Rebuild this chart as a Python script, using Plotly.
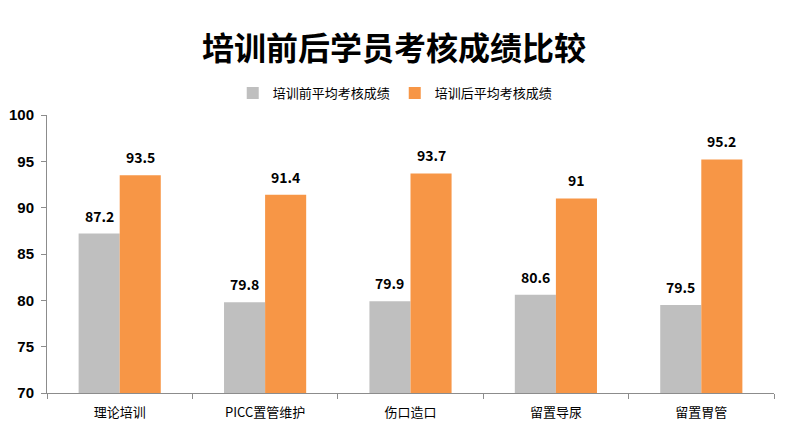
import plotly.graph_objects as go

categories = ["理论培训", "PICC置管维护", "伤口造口", "留置导尿", "留置胃管"]
before = [87.2, 79.8, 79.9, 80.6, 79.5]
after = [93.5, 91.4, 93.7, 91, 95.2]
series_names = ["培训前平均考核成绩", "培训后平均考核成绩"]

font_family = "Noto Sans CJK SC, Noto Sans, sans-serif"
axis_color = "#8c8c8c"

W, H = 788, 435
ML, MR, MT, MB = 47, 14, 115, 42
BARGAP = 0.435
cat_w = (W - ML - MR) / len(categories)
bar_w = cat_w * (1 - BARGAP) / 2

fig = go.Figure()
fig.add_trace(go.Bar(
    x=categories, y=before, name=series_names[0],
    marker=dict(color="#BFBFBF", line=dict(width=0)),
))
fig.add_trace(go.Bar(
    x=categories, y=after, name=series_names[1],
    marker=dict(color="#F79646", line=dict(width=0)),
))

label_font = dict(family=font_family, size=14, color="#000000", weight="bold")
for vals, sign in ((before, -1), (after, 1)):
    for c, v in zip(categories, vals):
        fig.add_annotation(x=c, y=v, text=f"{v:g}", showarrow=False,
                           xshift=sign * bar_w / 2, yanchor="bottom", yshift=6,
                           font=label_font)

fig.update_layout(
    width=W, height=H,
    margin=dict(l=ML, r=MR, t=MT, b=MB, autoexpand=False),
    paper_bgcolor="white", plot_bgcolor="white",
    barmode="group", bargap=BARGAP, bargroupgap=0,
    title=dict(text="<b>培训前后学员考核成绩比较</b>", x=0.5, xanchor="center",
               y=0.888, yanchor="middle",
               font=dict(family=font_family, size=32, color="#000000")),
    legend=dict(orientation="h", x=0.479, xanchor="center", y=1.079, yanchor="middle",
                font=dict(family=font_family, size=13, color="#000000"),
                itemwidth=30, traceorder="normal"),
    showlegend=True,
    font=dict(family=font_family),
)
fig.update_xaxes(
    type="category", showline=True, linecolor=axis_color, linewidth=1,
    ticks="outside", tickson="boundaries", ticklen=5, tickcolor=axis_color,
    tickfont=dict(family=font_family, size=13, color="#000000"),
    showgrid=False, automargin=False, ticklabelstandoff=7,
)
fig.update_yaxes(
    range=[70, 100], dtick=5, showline=True, linecolor=axis_color, linewidth=1,
    ticks="outside", ticklen=5, tickcolor=axis_color,
    tickfont=dict(family="Liberation Sans, Arial, sans-serif", size=15, color="#000000", weight="bold"),
    showgrid=False, zeroline=False, automargin=False, ticklabelstandoff=4,
)

fig.write_html("out.html", config={"displayModeBar": False},
               post_script="document.body.style.margin='0';")
